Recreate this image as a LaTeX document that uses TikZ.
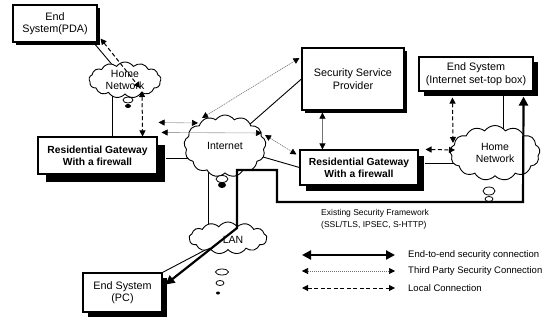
\documentclass[tikz,border=0pt]{standalone}
\usepackage{fontspec}
\setmainfont{Liberation Sans}
\usetikzlibrary{shapes.symbols,shadows,arrows.meta,calc,backgrounds}
\tikzstyle{sysbox}=[draw,line width=1.1pt,fill=white,align=center,inner sep=1pt,font=\fontsize{10.8}{12.5}\selectfont]
\tikzstyle{gwbox}=[sysbox,font=\fontsize{10.3}{12}\selectfont\bfseries]
\tikzstyle{netcloud}=[cloud,cloud ignores aspect,draw,line width=0.9pt,fill=white,cloud puffs=13,cloud puff arc=110,inner sep=0pt]
\tikzstyle{cloudtext}=[align=center,font=\fontsize{10.5}{12}\selectfont]
\tikzstyle{link}=[draw,line width=0.9pt]
\tikzstyle{endconn}=[draw,line width=2.2pt,{Triangle[length=9pt,width=9pt]}-{Triangle[length=9pt,width=9pt]}]
\tikzstyle{thirdconn}=[draw,line width=0.6pt,black!55,dash pattern=on 1.2pt off 0.8pt,{Triangle[length=6pt,width=6pt,black]}-{Triangle[length=6pt,width=6pt,black]}]
\tikzstyle{localconn}=[draw,line width=1pt,dash pattern=on 4pt off 2.5pt,{Triangle[length=6pt,width=6pt]}-{Triangle[length=6pt,width=6pt]}]
\tikzstyle{legend}=[anchor=west,inner sep=0pt,font=\fontsize{9.5}{11}\selectfont]
\tikzset{shadowed/.style={drop shadow={shadow xshift=#1,shadow yshift=-#1,fill=black,opacity=1}}}

\begin{document}
\begin{tikzpicture}[x=1pt,y=-1pt]
    \useasboundingbox (0,0) rectangle (549,324);

    % boxes
    \node[sysbox,shadowed=3pt,minimum width=84pt,minimum height=37pt] (pda) at (55,23.5) {End\\System(PDA)};
    \node[gwbox,shadowed=8pt,minimum width=119pt,minimum height=37pt] (gwL) at (97.5,155.5) {Residential Gateway\\With a firewall};
    \node[sysbox,shadowed=3pt,minimum width=102pt,minimum height=62pt] (ssp) at (353,79) {Security Service\\Provider};
    \node[gwbox,shadowed=6pt,minimum width=118pt,minimum height=35pt] (gwR) at (359,167.5) {Residential Gateway\\With a firewall};
    \node[sysbox,shadowed=5pt,minimum width=114pt,minimum height=34pt] (stb) at (476,74) {End System\\(Internet set-top box)};
    \node[sysbox,shadowed=5pt,minimum width=79pt,minimum height=39pt] (pc) at (122.5,292.5) {End System\\(PC)};

    % clouds
    \node[netcloud,minimum width=72pt,minimum height=36pt,label={[cloudtext]center:Home\\Network}] (hnL) at (125,80) {};
    \node[netcloud,minimum width=82pt,minimum height=62pt,label={[cloudtext]center:Internet}] (inet) at (225,146) {};
    \node[netcloud,minimum width=90pt,minimum height=55pt,label={[cloudtext]center:Home\\Network}] (hnR) at (495,153) {};
    \node[netcloud,minimum width=78pt,minimum height=32pt,label={[cloudtext,xshift=5pt,yshift=-2pt]center:LAN}] (lan) at (228,238) {};

    % plain links, under the clouds
    \begin{scope}[on background layer]
    \path[link] ($(pda.south east)+(-4,0)$) -- (hnL.center);
    \path[link] ($(gwL.north west)+(75,0)$) -- ++(0,-50);
    \path[link] ($(gwL.east)+(8,2.5)$) -- ++(40,0);
    \path[link] (ssp.west) -- (inet.center);
    \path[link] (gwR.west) -- (inet.center);
    \path[link] ($(gwR.east)+(6,-4.5)$) -- ++(45,0);
    \path[link] ($(stb.south east)+(-30,0)$) -- ++(0,50);
    \path[link] ($(inet.center)+(-17,0)$) -- ($(lan.center)+(-20,0)$);
    \path[link] (pc.north east) -- (lan.center);
    \end{scope}

    % bubbles
    \draw[line width=0.8pt,fill=white] (128,100) ellipse (5 and 3);
    \fill (128,106) ellipse (3 and 2);
    \draw[line width=0.8pt,fill=white] (222,179) ellipse (6 and 3.5);
    \fill (222,185) ellipse (4 and 3);
    \draw[line width=0.8pt,fill=white] (489,191) ellipse (6 and 4);
    \draw[line width=0.8pt,fill=white] (489,199) ellipse (4 and 2.5);
    \draw[line width=0.8pt] (222,272) ellipse (6.5 and 3);
    \draw[line width=0.8pt] (220,283) ellipse (4 and 2.5);
    \fill (218,293) ellipse (2 and 1.5);

    % local connections
    \path[localconn] ($(pda.south east)+(3,-4)$) -- ($(hnL.center)+(15,8)$);
    \path[localconn] ($(hnL.center)+(17,11)$) -- ($(gwL.north east)+(-15,0)$);
    \path[localconn] ($(stb.south west)+(34,6)$) -- ($(hnR.center)+(-42,-10)$);
    \path[localconn] ($(gwR.north east)+(7,0)$) -- ($(hnR.center)+(-40,-3)$);

    % third party connections
    \path[thirdconn] ($(gwL.north east)+(1,-14)$) -- ($(inet.center)+(-27,-23)$);
    \path[thirdconn] ($(gwL.north east)+(4,-4)$) -- ($(inet.center)+(37,-13)$);
    \path[thirdconn] ($(inet.center)+(-23,-28)$) -- ($(ssp.west)+(-2,-21)$);
    \path[thirdconn] ($(ssp.south west)+(21,2)$) -- ($(gwR.north west)+(23,0)$);
    \path[thirdconn] ($(inet.center)+(40,-11)$) -- ($(gwR.north west)+(-3,5)$);

    % end-to-end connection
    \coordinate (lanjoint) at (237,228);
    \path[endconn] ($(pc.east)+(3,-8)$) -- (lanjoint) -- ++(0,-58) -- ++(40,0) -- ++(0,32) -- ++(246,0) -- ($(stb.south east)+(-10,5)$);

    % legend
    \node[legend,align=left,font=\fontsize{8.5}{12}\selectfont] (fwk) at (321,219) {Existing Security Framework\\(SSL/TLS, IPSEC, S-HTTP)};
    \node[legend] (lg1) at (408,255) {End-to-end security connection};
    \node[legend] (lg2) at (408,271) {Third Party Security Connection};
    \node[legend] (lg3) at (408,288) {Local Connection};
    \path[endconn] ($(lg1.west)+(-106,0)$) -- ($(lg1.west)+(-13,0)$);
    \path[thirdconn] ($(lg2.west)+(-106,0)$) -- ($(lg2.west)+(-13,0)$);
    \path[localconn] ($(lg3.west)+(-106,0)$) -- ($(lg3.west)+(-13,0)$);

\end{tikzpicture}
\end{document}
